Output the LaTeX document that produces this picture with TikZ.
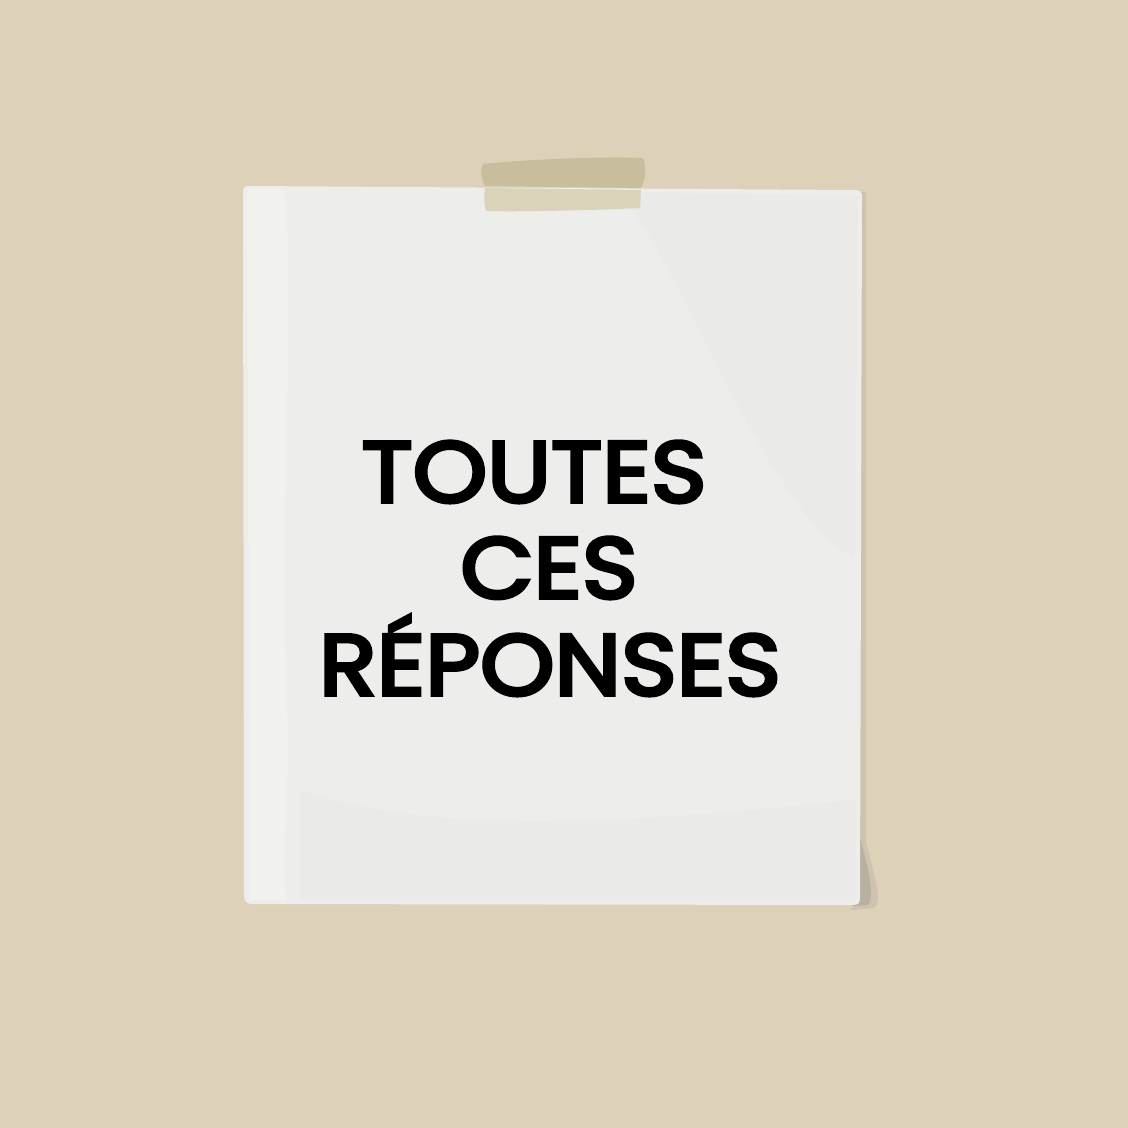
\documentclass[tikz,border=0pt]{standalone}
\usepackage{fontspec}
\newfontfamily\notefont{Poppins}[FakeBold=4.5,FakeStretch=1.1]
\definecolor{bgbeige}{HTML}{DDD1B9}
\definecolor{paper}{HTML}{EDEDEB}
\definecolor{paperlight}{HTML}{F1F1EE}
\definecolor{papershade}{HTML}{E8E8E5}
\definecolor{shadow}{HTML}{B9B1A0}
\definecolor{tapedark}{HTML}{C8BD9D}
\definecolor{tapelight}{HTML}{D9D3B9}
\tikzset{
  notetext/.style={font=\notefont\fontsize{24.5}{30}\selectfont, text=black, inner sep=0pt, anchor=base},
}
\begin{document}
\begin{tikzpicture}[x=0.1mm,y=-0.1mm]
\useasboundingbox (0,0) rectangle (1128,1128);
\fill[bgbeige] (0,0) rectangle (1128,1128);
% shadow on the right / bottom-right curl
\fill[shadow!45!bgbeige] (860,192) -- (866,192) -- (866,840) .. controls (872,870) and (884,900) .. (874,908) -- (850,910) -- (860,900) -- cycle;
\fill[shadow] (858,830) .. controls (866,860) and (876,895) .. (868,905) -- (852,906) .. controls (862,890) and (858,860) .. (856,840) -- cycle;
% paper
\fill[paper] (249,186) -- (855,190) .. controls (860,190) and (862,192) .. (862,196) -- (860,898) .. controls (860,903) and (858,905) .. (853,905) -- (252,904) .. controls (247,904) and (244,901) .. (244,896) -- (243,192) .. controls (243,188) and (245,186) .. (249,186) -- cycle;
% subtle paper shading
\fill[paperlight] (249,190) -- (285,190) .. controls (295,300) and (280,500) .. (287,700) .. controls (291,800) and (280,860) .. (287,900) -- (250,900) -- (247,195) -- cycle;
\fill[papershade, opacity=0.45] (620,192) .. controls (700,300) and (760,500) .. (855,560) -- (858,196) -- cycle;
\fill[papershade, opacity=0.45] (300,790) .. controls (450,840) and (650,820) .. (855,800) -- (855,900) -- (300,900) -- cycle;
% tape
\fill[tapedark] (483,164) .. controls (520,160) and (600,156) .. (643,158) .. controls (647,170) and (645,180) .. (641,188) -- (485,186) .. controls (481,178) and (480,170) .. (483,164) -- cycle;
\fill[tapelight] (485,188) -- (641,190) .. controls (640,198) and (641,204) .. (640,208) .. controls (600,210) and (520,212) .. (486,211) .. controls (484,204) and (484,196) .. (485,188) -- cycle;
% text
\node[notetext] (l1) at (534,502) {TOUTES};
\node[notetext] (l2) at (549,598) {CES};
\node[notetext] (l3) at (550,695) {RÉPONSES};
\end{tikzpicture}
\end{document}
